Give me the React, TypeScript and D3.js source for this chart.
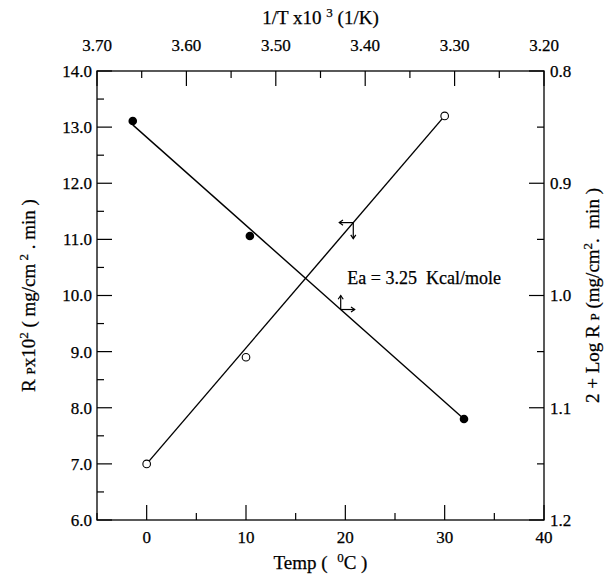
import React from 'react';
import * as d3 from 'd3';

// ---- data ----
const tempC = [0, 10, 30];
const rpX100 = [7.0, 8.9, 13.2];
const invTx1000 = [3.66, 3.529, 3.2895];
const logRpPlus2 = [0.8445, 0.947, 1.11];
const rpFitTemp = [0, 30];
const rpFitValue = [7.0, 13.2];
const logFitInvT = [3.66, 3.2895];
const logFitValue = [0.848, 1.11];

const bottomMajor = [0, 10, 20, 30, 40];
const bottomMinor = [-5, 5, 15, 25, 35];
const bottomLabels = ['0', '10', '20', '30', '40'];
const topMajor = [3.7, 3.6, 3.5, 3.4, 3.3, 3.2];
const topMinor = [3.65, 3.55, 3.45, 3.35, 3.25];
const topLabels = ['3.70', '3.60', '3.50', '3.40', '3.30', '3.20'];
const leftMajor = [6, 7, 8, 9, 10, 11, 12, 13, 14];
const leftMinor = [6.5, 7.5, 8.5, 9.5, 10.5, 11.5, 12.5, 13.5];
const leftLabels = ['6.0', '7.0', '8.0', '9.0', '10.0', '11.0', '12.0', '13.0', '14.0'];
const rightMajor = [0.8, 0.9, 1.0, 1.1, 1.2];
const rightMinor = [0.85, 0.95, 1.05, 1.15];
const rightLabels = ['0.8', '0.9', '1.0', '1.1', '1.2'];

const annotationText = 'Ea = 3.25  Kcal/mole';
const annotTemp = 20.2;
const annotRp = 10.2;
const arrowAscTemp = 20.8;
const arrowDescInvT = 3.4274;

const W = 616;
const H = 584;
const L = 97, R = 544, T = 71, B = 520;
const FONT = "'Liberation Serif', 'Times New Roman', serif";

export default function App() {
  const xTemp = d3.scaleLinear().domain([-5, 40]).range([L, R]);
  const xInv = d3.scaleLinear().domain([3.7, 3.2]).range([L, R]);
  const yLeft = d3.scaleLinear().domain([6, 14]).range([B, T]);
  const yRight = d3.scaleLinear().domain([0.8, 1.2]).range([T, B]);

  const lineGen = d3.line<[number, number]>().x((d) => d[0]).y((d) => d[1]);
  const ascPath = lineGen(rpFitTemp.map((t, i) => [xTemp(t), yLeft(rpFitValue[i])] as [number, number]));
  const descPath = lineGen(logFitInvT.map((v, i) => [xInv(v), yRight(logFitValue[i])] as [number, number]));

  const major = 15, minor = 7;

  const ascY = d3.scaleLinear().domain(rpFitTemp).range(rpFitValue);
  const ax = xTemp(arrowAscTemp), ay = yLeft(ascY(arrowAscTemp));
  const descY = d3.scaleLinear().domain(logFitInvT).range(logFitValue);
  const dx = xInv(arrowDescInvT), dy = yRight(descY(arrowDescInvT));

  const arrow = (x0: number, y0: number, x1: number, y1: number, key: string) => {
    const ang = Math.atan2(y1 - y0, x1 - x0);
    const h = 4.5, spread = 0.6;
    const p1 = [x1 - h * Math.cos(ang - spread), y1 - h * Math.sin(ang - spread)];
    const p2 = [x1 - h * Math.cos(ang + spread), y1 - h * Math.sin(ang + spread)];
    return (
      <g key={key} stroke="#000" strokeWidth={1.2} fill="none">
        <line x1={x0} y1={y0} x2={x1} y2={y1} />
        <polyline points={`${p1[0]},${p1[1]} ${x1},${y1} ${p2[0]},${p2[1]}`} />
      </g>
    );
  };

  const tickFont = 17;
  const txt = { fontFamily: FONT, fill: '#000', stroke: '#000', strokeWidth: 0.25 } as React.CSSProperties;

  return (
    <svg width={W} height={H} style={{ position: 'absolute', left: 0, top: 0, background: '#fff' }}>
      <rect x={0} y={0} width={W} height={H} fill="#fff" />
      <rect x={L} y={T} width={R - L} height={B - T} fill="none" stroke="#000" strokeWidth={1.3} />

      {bottomMajor.map((v, i) => (
        <g key={'bm' + i}>
          <line x1={xTemp(v)} x2={xTemp(v)} y1={B} y2={B - major} stroke="#000" strokeWidth={1.2} />
          <text x={xTemp(v)} y={543} textAnchor="middle" fontSize={tickFont} style={txt}>{bottomLabels[i]}</text>
        </g>
      ))}
      {bottomMinor.map((v, i) => (
        <line key={'bn' + i} x1={xTemp(v)} x2={xTemp(v)} y1={B} y2={B - minor} stroke="#000" strokeWidth={1.2} />
      ))}

      {topMajor.map((v, i) => (
        <g key={'tm' + i}>
          <line x1={xInv(v)} x2={xInv(v)} y1={T} y2={T + major} stroke="#000" strokeWidth={1.2} />
          <text x={xInv(v)} y={51} textAnchor="middle" fontSize={tickFont} style={txt}>{topLabels[i]}</text>
        </g>
      ))}
      {topMinor.map((v, i) => (
        <line key={'tn' + i} x1={xInv(v)} x2={xInv(v)} y1={T} y2={T + minor} stroke="#000" strokeWidth={1.2} />
      ))}

      {leftMajor.map((v, i) => (
        <g key={'lm' + i}>
          <line x1={L} x2={L + major} y1={yLeft(v)} y2={yLeft(v)} stroke="#000" strokeWidth={1.2} />
          <text x={92} y={yLeft(v)} dy="0.35em" textAnchor="end" fontSize={tickFont} style={txt}>{leftLabels[i]}</text>
        </g>
      ))}
      {leftMinor.map((v, i) => (
        <line key={'ln' + i} x1={L} x2={L + minor} y1={yLeft(v)} y2={yLeft(v)} stroke="#000" strokeWidth={1.2} />
      ))}

      {rightMajor.map((v, i) => (
        <g key={'rm' + i}>
          <line x1={R} x2={R - major} y1={yRight(v)} y2={yRight(v)} stroke="#000" strokeWidth={1.2} />
          <text x={550} y={yRight(v)} dy="0.35em" textAnchor="start" fontSize={tickFont} style={txt}>{rightLabels[i]}</text>
        </g>
      ))}
      {rightMinor.map((v, i) => (
        <line key={'rn' + i} x1={R} x2={R - minor} y1={yRight(v)} y2={yRight(v)} stroke="#000" strokeWidth={1.2} />
      ))}

      <path d={ascPath || ''} fill="none" stroke="#000" strokeWidth={1.4} />
      <path d={descPath || ''} fill="none" stroke="#000" strokeWidth={1.4} />

      {tempC.map((t, i) => (
        <circle key={'o' + i} cx={xTemp(t)} cy={yLeft(rpX100[i])} r={3.8} fill="#fff" stroke="#000" strokeWidth={1.1} />
      ))}
      {invTx1000.map((v, i) => (
        <circle key={'f' + i} cx={xInv(v)} cy={yRight(logRpPlus2[i])} r={4.3} fill="#000" />
      ))}

      {arrow(ax, ay, ax - 14, ay, 'a1')}
      {arrow(ax, ay, ax, ay + 16, 'a2')}
      {arrow(dx, dy, dx, dy - 14, 'a3')}
      {arrow(dx, dy, dx + 14, dy, 'a4')}

      <text x={xTemp(annotTemp)} y={yLeft(annotRp)} fontSize={18} style={{ ...txt, whiteSpace: 'pre' }}>{annotationText}</text>

      <text x={(L + R) / 2} y={24} textAnchor="middle" fontSize={19} style={{ ...txt, whiteSpace: 'pre' }}>
        1/T x10 <tspan dy={-7} fontSize={13}>3</tspan><tspan dy={7}> (1/K)</tspan>
      </text>
      <text x={(L + R) / 2} y={569} textAnchor="middle" fontSize={19} style={{ ...txt, whiteSpace: 'pre' }}>
        Temp (  <tspan dy={-7} fontSize={13}>0</tspan><tspan dy={7}>C )</tspan>
      </text>
      <text transform={`translate(35, ${(T + B) / 2}) rotate(-90)`} textAnchor="middle" fontSize={19} style={{ ...txt, whiteSpace: 'pre' }}>
        R <tspan fontSize={13}>P</tspan>x10<tspan dy={-7} fontSize={13}>2</tspan><tspan dy={7}> ( mg/cm</tspan><tspan dy={-7} fontSize={13}> 2</tspan><tspan dy={7}> . min )</tspan>
      </text>
      <text transform={`translate(599, ${(T + B) / 2}) rotate(-90)`} textAnchor="middle" fontSize={19} style={{ ...txt, whiteSpace: 'pre' }}>
        2 + Log R <tspan fontSize={13}>P</tspan> (mg/cm<tspan dy={-7} fontSize={13}>2</tspan><tspan dy={7}>.  min )</tspan>
      </text>
    </svg>
  );
}
